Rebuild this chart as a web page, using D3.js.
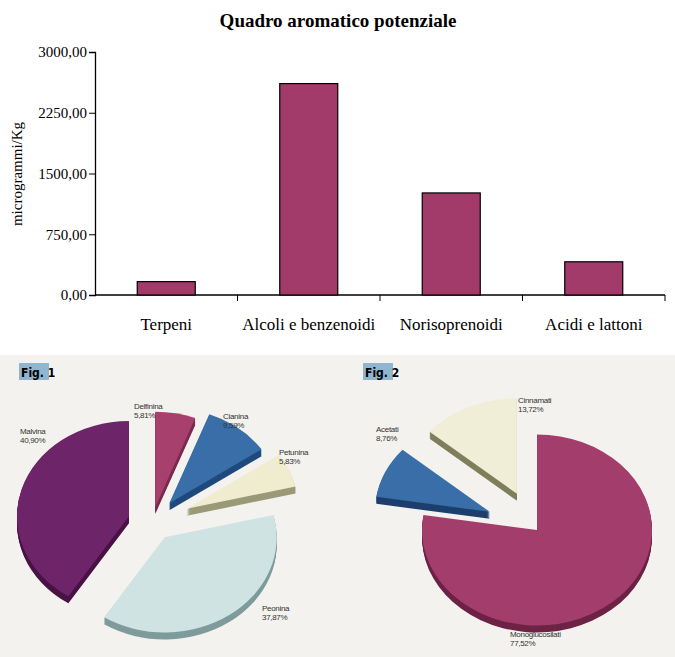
<!DOCTYPE html>
<html><head><meta charset="utf-8">
<script src="https://cdn.jsdelivr.net/npm/d3@7"></script>
<style>body{margin:0;background:#f3f2ee}</style>
</head><body>
<svg id="c" width="675" height="657"></svg>
<script>
// bar chart data
var categories = ["Terpeni", "Alcoli e benzenoidi", "Norisoprenoidi", "Acidi e lattoni"]
var values = [165, 2610, 1260, 410]
var yTicks = [0, 750, 1500, 2250, 3000]

// pie data (percent)
var fig1Labels = ["Delfinina", "Cianina", "Petunina", "Peonina", "Malvina"]
var fig1Values = [5.81, 9.59, 5.83, 37.87, 40.90]
var fig1Colors = ["#a8406e", "#3a6ea8", "#efecd0", "#cfe3e3", "#6e2468"]
var fig1Sides = ["#7d2a50", "#1f4a7d", "#9a9a78", "#7f9b9b", "#4a1346"]
var fig2Labels = ["Monoglucosilati", "Acetati", "Cinnamati"]
var fig2Values = [77.52, 8.76, 13.72]
var fig2Colors = ["#a33e6c", "#3a6ea8", "#f0eed6"]
var fig2Sides = ["#6e2346", "#1d3f6e", "#7f7f5c"]

var svg = d3.select("#c")
var fmt = function (v) { return d3.format(".2f")(v).replace(".", ",") }

svg.append("rect").attr("width", 675).attr("height", 355).attr("fill", "#ffffff")

// ---- bar chart
var margin = {left: 95, right: 665, top: 52, bottom: 295}
var y = d3.scaleLinear().domain([0, 3000]).range([margin.bottom, margin.top])

svg.append("text").attr("x", 338).attr("y", 27).attr("text-anchor", "middle")
    .style("font", "bold 19px 'Liberation Serif'").text("Quadro aromatico potenziale")

var gy = svg.append("g").attr("transform", "translate(" + margin.left + ",0)")
    .call(d3.axisLeft(y).tickValues(yTicks).tickSize(6).tickFormat(fmt))
gy.selectAll("text").style("font", "15px 'Liberation Serif'").attr("x", -8)
gy.select(".domain").attr("stroke-width", 1.3)

var xb = d3.scaleBand().domain(categories).range([margin.left, margin.right])
var gx = svg.append("g").attr("transform", "translate(0," + margin.bottom + ")")
gx.append("line").attr("x1", margin.left).attr("x2", margin.right).attr("stroke", "#000").attr("stroke-width", 1.3)
gx.selectAll(".t").data(categories.slice(1)).enter().append("line")
    .attr("x1", d => xb(d)).attr("x2", d => xb(d)).attr("y1", 0).attr("y2", 6).attr("stroke", "#000")
gx.append("line").attr("x1", margin.right).attr("x2", margin.right).attr("y1", 0).attr("y2", 6).attr("stroke", "#000")
gx.selectAll(".lb").data(categories).enter().append("text")
    .attr("x", d => xb(d) + xb.bandwidth() / 2).attr("y", 35).attr("text-anchor", "middle")
    .style("font", "17px 'Liberation Serif'").text(d => d)

svg.append("text").attr("transform", "translate(22,174) rotate(-90)").attr("text-anchor", "middle")
    .style("font", "15px 'Liberation Serif'").text("microgrammi/Kg")

svg.selectAll(".bar").data(values).enter().append("rect")
    .attr("x", (d, i) => xb(categories[i]) + xb.bandwidth() / 2 - 29)
    .attr("width", 58)
    .attr("y", d => y(d)).attr("height", d => y(0) - y(d))
    .attr("fill", "#a23b6a").attr("stroke", "#000").attr("stroke-width", 1.2)

// ---- pies
function figLabel(tx, label) {
    svg.append("rect").attr("x", tx).attr("y", 363).attr("width", 30).attr("height", 17).attr("fill", "#8fb5cf")
    svg.append("text").attr("x", tx + 2).attr("y", 377).style("font", "bold 12px 'DejaVu Sans Condensed'").text(label)
}
figLabel(19, "Fig. 1")
figLabel(363, "Fig. 2")

function pie3d(cx, cy, r, sy, labels, vals, colors, sides, explode, labelPos) {
    var arcs = d3.pie().sort(null)(vals)
    var arc = d3.arc().innerRadius(0).outerRadius(r)
    var g = svg.append("g").attr("transform", "translate(" + cx + "," + cy + ")")
    arcs.forEach(function (a, i) {
        var mid = (a.startAngle + a.endAngle) / 2
        var dx = Math.sin(mid) * explode[i], dy = -Math.cos(mid) * explode[i] * sy
        var s = g.append("g").attr("transform", "translate(" + dx + "," + dy + ")")
        for (var k = 7; k > 0; k--) {
            s.append("path").attr("d", arc(a)).attr("fill", sides[i])
                .attr("transform", "translate(0," + k + ") scale(1," + sy + ")")
        }
        s.append("path").attr("d", arc(a)).attr("fill", colors[i]).attr("transform", "scale(1," + sy + ")")
        var t = svg.append("text").attr("x", labelPos[i][0]).attr("y", labelPos[i][1])
            .style("font", "8px 'Liberation Sans'").attr("fill", "#333").style("letter-spacing", "-0.3px")
        t.append("tspan").attr("x", labelPos[i][0]).text(labels[i])
        t.append("tspan").attr("x", labelPos[i][0]).attr("dy", 9).text(fmt(vals[i]) + "%")
    })
}

pie3d(152, 522, 112, 0.85, fig1Labels, fig1Values, fig1Colors, fig1Sides,
    [18, 28, 38, 22, 24],
    [[134, 409], [223, 419], [279, 455], [262, 611], [20, 434]])

pie3d(537, 530, 115, 0.83, fig2Labels, fig2Values, fig2Colors, fig2Sides,
    [0, 52, 48],
    [[510, 637], [376, 432], [518, 403]])
</script>
</body></html>
